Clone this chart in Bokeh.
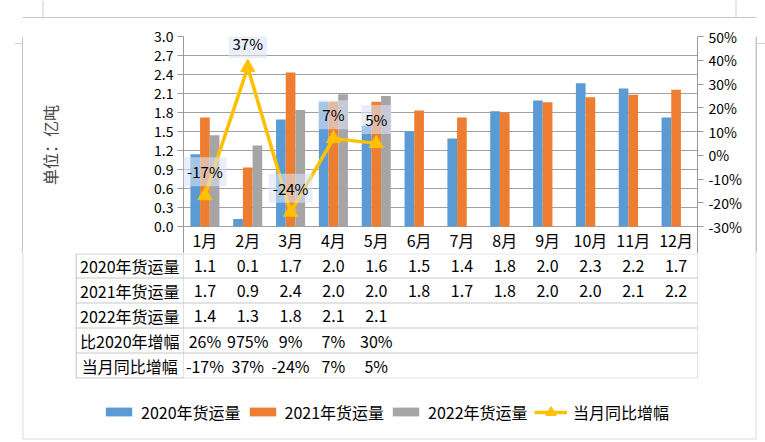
from bokeh.plotting import figure
from bokeh.layouts import column, row
from bokeh.models import (Range1d, LinearAxis, FixedTicker, PrintfTickFormatter, Grid,
                          ColumnDataSource, Label, BoxAnnotation, Legend, LegendItem)
from bokeh.transform import dodge
from bokeh.core.properties import value
from bokeh.embed import file_html
from bokeh.resources import INLINE

# ---------------- data ----------------
months = ["1月", "2月", "3月", "4月", "5月", "6月", "7月", "8月", "9月", "10月", "11月", "12月"]
vol_2020 = [1.14, 0.12, 1.69, 1.97, 1.59, 1.50, 1.39, 1.82, 1.99, 2.26, 2.18, 1.72]
vol_2021 = [1.72, 0.93, 2.43, 1.97, 1.97, 1.83, 1.72, 1.80, 1.96, 2.04, 2.08, 2.16]
vol_2022 = [1.44, 1.28, 1.84, 2.09, 2.06]
growth_vs_2020 = ["26%", "975%", "9%", "7%", "30%"]
yoy_pct = [-17, 37, -24, 7, 5]
left_ticks = [0.0, 0.3, 0.6, 0.9, 1.2, 1.5, 1.8, 2.1, 2.4, 2.7, 3.0]
right_ticks = [-30, -20, -10, 0, 10, 20, 30, 40, 50]
row_names = ["2020年货运量", "2021年货运量", "2022年货运量", "比2020年增幅", "当月同比增幅"]
series_names = ["2020年货运量", "2021年货运量", "2022年货运量", "当月同比增幅"]

# month slot centres on a numeric axis (slot i spans [i, i+1])
N = len(months)
xc = [i + 0.5 for i in range(N)]

# ---------------- style / layout ----------------
FONT = "Noto Sans CJK SC"
C2020, C2021, C2022, CLINE = "#5B9BD5", "#ED7D31", "#A5A5A5", "#FFC000"
GRID = "#a0a0a0"
TBL = "#9a9a9a"
BORDER = "#8c8c8c"
FAINT = "#cfcfcf"

PW, PH = 765, 442                                # page size
BOX_L, BOX_R, BOX_T, BOX_B = 22, 755, 17, 438    # outer chart box (pixel rows/cols)
FL, FR, FT, FB = 183, 697, 36, 226               # value area of the chart
CAT_B = 253                                      # bottom of the category-label row
ROW_B = [277, 302, 327, 352, 377]                # bottoms of the data-table rows
VOL_MAX, PCT_MIN, PCT_MAX = 3.0, -30.0, 50.0
TOP_H = BOX_T + 1
MID_H = CAT_B - TOP_H
BOT_H = PH - CAT_B
ROW_PX = 25.0


def gx(px):
    return (px - FL) / (FR - FL) * N


def gy(py):
    return (py - FB) / ROW_PX


def vol_at(py):
    return (FB - py) / (FB - FT) * VOL_MAX


def pct_at(py):
    return PCT_MIN + (FB - py) / (FB - FT) * (PCT_MAX - PCT_MIN)


def strip(width, height, xr, yr):
    f = figure(width=width, height=height, x_range=xr, y_range=yr, output_backend="svg",
               toolbar_location=None, tools="", x_axis_location=None, y_axis_location=None,
               min_border=0, outline_line_color=None, background_fill_color="white",
               border_fill_color="white")
    for g in f.select(type=Grid):
        g.visible = False
    return f


def hline(f, x0, x1, y, color):
    f.segment(x0=[x0], y0=[y], x1=[x1], y1=[y], line_color=color, line_width=1)


def vline(f, x, y0, y1, color):
    f.segment(x0=[x], y0=[y0], x1=[x], y1=[y1], line_color=color, line_width=1)


# ---- top strip (page coords) ----
top = strip(PW, TOP_H, Range1d(0, PW), Range1d(TOP_H, 0))
hline(top, BOX_L, BOX_R + 1, BOX_T + 0.5, BORDER)
vline(top, 42.5, 0, BOX_T, FAINT)
vline(top, 735.5, 0, BOX_T, FAINT)

# ---- left strip ----
LW = BOX_L + 1
left = strip(LW, MID_H, Range1d(0, LW), Range1d(CAT_B, TOP_H))
vline(left, BOX_L + 0.5, TOP_H, CAT_B, BORDER)
hline(left, 14, BOX_L, 25.5, FAINT)

# ---- right strip ----
RW = PW - BOX_R
right = strip(RW, MID_H, Range1d(BOX_R, PW), Range1d(CAT_B, TOP_H))
vline(right, BOX_R + 0.5, TOP_H, CAT_B, BORDER)
hline(right, BOX_R + 1, PW, 25.5, FAINT)

# ---- main chart (frame runs down to the bottom of the category row) ----
MW = BOX_R - LW
p = figure(width=MW, height=MID_H, x_range=Range1d(0, N), y_range=Range1d(vol_at(CAT_B), VOL_MAX),
           output_backend="svg", toolbar_location=None, tools="", x_axis_location=None,
           min_border_left=FL - LW, min_border_right=BOX_R - FR, min_border_top=FT - TOP_H,
           min_border_bottom=0, outline_line_color=None,
           background_fill_color="white", border_fill_color="white")
p.extra_y_ranges = {"pct": Range1d(pct_at(CAT_B), PCT_MAX)}
for g in p.select(type=Grid):
    g.visible = False

yax = p.yaxis[0]
yax.ticker = FixedTicker(ticks=left_ticks)
yax.formatter = PrintfTickFormatter(format="%.1f")
yax.axis_label = "单位：亿吨"
yax.axis_label_text_font = FONT
yax.axis_label_text_font_size = "16px"
yax.axis_label_text_font_style = "normal"
yax.axis_label_standoff = 89
yax.axis_line_color = TBL
yax.major_tick_line_color = TBL
yax.major_tick_out = 6
yax.major_tick_in = 0
yax.minor_tick_line_color = None
yax.major_label_text_font = FONT
yax.major_label_text_font_size = "14px"
yax.major_label_text_color = "black"
yax.major_label_standoff = 4

rax = LinearAxis(y_range_name="pct", ticker=FixedTicker(ticks=right_ticks),
                 formatter=PrintfTickFormatter(format="%d%%"))
rax.axis_line_color = TBL
rax.major_tick_line_color = TBL
rax.major_tick_out = 6
rax.major_tick_in = 0
rax.minor_tick_line_color = None
rax.major_label_text_font = FONT
rax.major_label_text_font_size = "14px"
rax.major_label_text_color = "black"
rax.major_label_standoff = 5
p.add_layout(rax, "right")

p.add_layout(Grid(dimension=1, ticker=FixedTicker(ticks=left_ticks), grid_line_color=GRID))

src = ColumnDataSource(dict(x=xc, v20=vol_2020, v21=vol_2021))
src22 = ColumnDataSource(dict(x=xc[:len(vol_2022)], v22=vol_2022))
BW = 0.226
p.vbar(x=dodge("x", -BW), top="v20", width=BW, source=src, fill_color=C2020, line_color=None)
p.vbar(x=dodge("x", 0), top="v21", width=BW, source=src, fill_color=C2021, line_color=None)
p.vbar(x=dodge("x", BW), top="v22", width=BW, source=src22, fill_color=C2022, line_color=None)

lsrc = ColumnDataSource(dict(x=xc[:len(yoy_pct)], yoy=yoy_pct))
p.line(x="x", y="yoy", source=lsrc, y_range_name="pct", line_color=CLINE, line_width=3.5)
p.scatter(x="x", y="yoy", source=lsrc, y_range_name="pct", marker="triangle", size=14,
          fill_color=CLINE, line_color=CLINE)

for i, v in enumerate(yoy_pct):
    p.add_layout(Label(x=xc[i], y=v, y_range_name="pct", y_offset=24,
                       text=f"{v}%", text_align="center", text_baseline="middle",
                       text_font=FONT, text_font_size="15px", text_color="black",
                       padding=4, background_fill_color="#DAE3F3", background_fill_alpha=0.6))

txt_kw = dict(text_align="center", text_baseline="middle", text_font=value(FONT),
              text_font_size="16px", text_color="black")
# category labels of the x dimension
p.text(x=xc, y=[vol_at((FB + CAT_B) / 2)] * N, text=months, **txt_kw)

# ---- bottom strip: data table, legend ----
b = strip(PW, BOT_H, Range1d(gx(0), gx(PW)), Range1d(gy(PH), gy(CAT_B)))

bounds = [gy(v) for v in [CAT_B] + ROW_B]
TL = gx(75.7)
box_kw = dict(fill_color=None, fill_alpha=0, line_color=TBL, line_width=1)
for k in range(len(ROW_B)):
    b.add_layout(BoxAnnotation(left=TL, right=N, top=bounds[k] + 0.5 / ROW_PX,
                               bottom=bounds[k + 1] + 0.5 / ROW_PX, **box_kw))
b.add_layout(BoxAnnotation(left=TL, right=0, top=bounds[0] + 0.5 / ROW_PX,
                           bottom=bounds[-1] + 0.5 / ROW_PX, **box_kw))
# outer chart box (sides + bottom)
b.add_layout(BoxAnnotation(left=gx(BOX_L + 0.5), right=gx(BOX_R + 0.5), top=gy(CAT_B - 20),
                           bottom=gy(BOX_B + 0.5), fill_color=None, fill_alpha=0,
                           line_color=BORDER, line_width=1))

rows = [
    [f"{v:.1f}" for v in vol_2020],
    [f"{v:.1f}" for v in vol_2021],
    [f"{v:.1f}" for v in vol_2022],
    list(growth_vs_2020),
    [f"{v}%" for v in yoy_pct],
]
for k, cells in enumerate(rows):
    yc = (bounds[k] + bounds[k + 1]) / 2 + 0.5 / ROW_PX
    b.text(x=[TL / 2], y=[yc], text=[row_names[k]], **txt_kw)
    b.text(x=xc[:len(cells)], y=[yc] * len(cells), text=cells, **txt_kw)

# legend (legend-only renderers carrying the series styles; their single point is NaN)
nan = float("nan")
def bsrc():
    return ColumnDataSource(dict(x=[nan], top=[nan]))
lr20 = b.vbar(x="x", top="top", width=0.2, source=bsrc(), fill_color=C2020, line_color=None)
lr21 = b.vbar(x="x", top="top", width=0.2, source=bsrc(), fill_color=C2021, line_color=None)
lr22 = b.vbar(x="x", top="top", width=0.2, source=bsrc(), fill_color=C2022, line_color=None)
lsrc2 = ColumnDataSource(dict(x=[nan], y=[nan]))
lrl = b.line(x="x", y="y", source=lsrc2, line_color=CLINE, line_width=3.5)
lrm = b.scatter(x="x", y="y", source=lsrc2, marker="triangle", size=14,
                fill_color=CLINE, line_color=CLINE)

LEG_CY = 412
leg_kw = dict(orientation="horizontal", glyph_width=33, label_standoff=6, spacing=5, padding=0,
              margin=0, border_line_color=None, background_fill_alpha=0,
              label_text_font=FONT, label_text_font_size="16px", label_text_color="black",
              label_height=11)
leg1 = Legend(items=[LegendItem(label=series_names[0], renderers=[lr20]),
                     LegendItem(label=series_names[1], renderers=[lr21]),
                     LegendItem(label=series_names[2], renderers=[lr22])],
              location=(102, PH - (LEG_CY + 11.5)), glyph_height=11, **leg_kw)
leg2 = Legend(items=[LegendItem(label=series_names[3], renderers=[lrl, lrm])],
              location=(534, PH - (LEG_CY + 13)), glyph_height=26, **leg_kw)
b.add_layout(leg1)
b.add_layout(leg2)

layout = column(top, row(left, p, right), b)
open("out.html", "w").write(file_html(layout, INLINE))
